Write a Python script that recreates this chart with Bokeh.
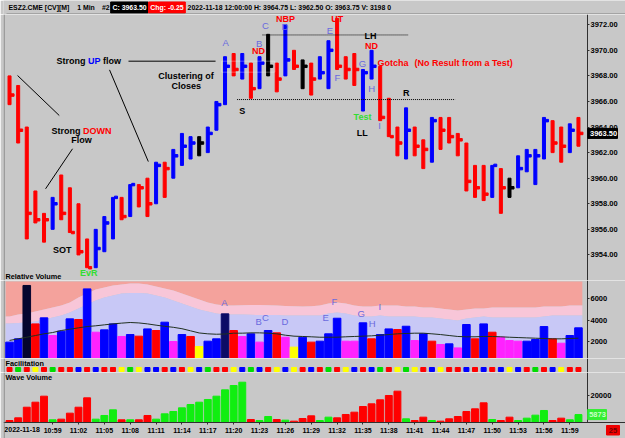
from bokeh.plotting import figure
from bokeh.models import (Range1d, FixedTicker, NumeralTickFormatter, Span,
                          ColumnDataSource, BoxAnnotation, LinearAxis)
from bokeh.layouts import column
from bokeh.embed import file_html
from bokeh.resources import INLINE
from bokeh.core.properties import value
from bokeh.transform import dodge

BG = "#c8c8c8"
FONT = "Liberation Sans"
LETTER = "#6a6ade"
GREEN_T = "#33dd33"

# ---------------- data ----------------
bars = list(range(67))
high = [3968.0, 3967.25, 3964.0, 3959.0, 3957.25, 3958.5, 3960.25, 3959.25, 3958.0, 3955.25,
        3956.0, 3957.0, 3958.5, 3958.5, 3959.5, 3959.5, 3960.0, 3961.25, 3961.25, 3962.25,
        3963.5, 3963.25, 3963.25, 3964.0, 3966.0, 3969.5, 3969.75, 3969.75, 3969.0, 3969.5,
        3971.25, 3969.0, 3972.0, 3970.0, 3969.25, 3969.0, 3969.5, 3970.75, 3972.5, 3969.5,
        3969.75, 3968.5, 3970.0, 3968.75, 3966.25, 3964.0, 3965.5, 3964.0, 3963.0, 3964.75,
        3964.75, 3964.75, 3963.5, 3962.75, 3961.0, 3961.0, 3961.0, 3960.75, 3960.0, 3961.75,
        3962.25, 3962.25, 3964.75, 3964.5, 3964.0, 3964.25, 3964.75]
low = [3965.75, 3962.75, 3955.25, 3956.5, 3955.0, 3956.0, 3956.75, 3955.75, 3954.0, 3953.0,
       3953.0, 3954.25, 3955.25, 3956.75, 3957.0, 3957.75, 3957.0, 3958.0, 3958.5, 3960.0,
       3961.0, 3961.5, 3961.75, 3962.0, 3963.75, 3965.75, 3968.0, 3967.75, 3966.25, 3967.0,
       3968.0, 3966.75, 3968.0, 3968.5, 3967.0, 3966.5, 3967.75, 3967.0, 3968.5, 3967.75,
       3967.25, 3965.25, 3967.75, 3964.5, 3963.25, 3961.75, 3961.5, 3961.75, 3960.75, 3961.25,
       3962.25, 3962.75, 3961.75, 3959.0, 3958.5, 3958.25, 3958.5, 3957.25, 3958.5, 3959.25,
       3960.5, 3959.5, 3961.5, 3962.0, 3961.25, 3962.0, 3962.5]
close = [3966.5, 3963.75, 3957.25, 3956.75, 3956.75, 3958.0, 3957.25, 3955.75, 3954.25, 3953.0,
         3954.5, 3956.5, 3958.5, 3957.0, 3959.5, 3959.25, 3958.0, 3961.0, 3960.75, 3961.75,
         3962.5, 3962.75, 3962.75, 3963.5, 3965.75, 3968.75, 3968.5, 3968.75, 3967.0, 3969.0,
         3968.75, 3967.75, 3969.25, 3968.75, 3968.75, 3967.75, 3968.25, 3970.0, 3968.75, 3968.5,
         3968.5, 3968.25, 3968.75, 3964.75, 3963.25, 3962.75, 3963.75, 3962.5, 3962.25, 3964.5,
         3963.75, 3963.25, 3963.0, 3959.75, 3959.25, 3958.75, 3961.0, 3959.25, 3959.25, 3960.75,
         3961.75, 3961.75, 3964.5, 3962.75, 3962.5, 3963.75, 3963.5]
R, B, K = "#ff0000", "#0000ff", "#000000"
price_colors = [R, R, R, R, R, B, R, R, R, R, B, B, B, R, B, R, R, B, R, B,
                B, B, K, B, B, B, R, B, R, B, K, R, B, R, K, R, B, B, R, R,
                R, B, B, R, R, R, B, R, R, B, R, R, R, R, R, R, B, R, K, B,
                B, B, B, R, R, B, R]

M, Y, N1, N2 = "#ff22ff", "#ffff00", "#05052e", "#0c0c66"
rel_volume = [1940, 2250, 7250, 3650, 4215, 2560, 2970, 4120, 4060, 6930,
              2870, 3090, 3650, 2470, 2650, 2500, 3180, 3030, 3810, 2000,
              2650, 2470, 1530, 2030, 2250, 4590, 3030, 2470, 2720, 1940,
              3030, 2810, 2400, 1470, 2400, 1940, 2030, 2720, 4180, 2030,
              2030, 3750, 2250, 2650, 3180, 3120, 3430, 2090, 2720, 2030,
              1720, 1780, 1400, 3590, 2250, 3650, 2870, 2400, 2090, 2030,
              2030, 2190, 3400, 2250, 1840, 2560, 3280]
rel_colors = [B, B, N1, R, B, M, B, B, R, B, M, B, B, M, B, R, B, R, B, M,
              B, R, Y, B, B, N2, R, M, B, M, B, R, M, Y, B, R, B, B, B, M,
              M, B, R, B, B, R, B, M, B, R, M, B, M, B, R, B, R, M, M, M,
              B, B, B, R, M, B, B]
rel_avg = [2100, 2250, 2400, 2560, 2720, 2840, 3030, 3150, 3280, 3400,
           3470, 3560, 3650, 3720, 3780, 3740, 3650, 3530, 3420, 3330,
           3200, 3000, 2800, 2720, 2680, 2700, 2780, 2780, 2810, 2810,
           2780, 2720, 2590, 2500, 2470, 2440, 2400, 2400, 2400, 2440,
           2470, 2500, 2530, 2590, 2650, 2720, 2750, 2780, 2780, 2720,
           2650, 2560, 2470, 2440, 2440, 2470, 2470, 2440, 2400, 2370,
           2340, 2310, 2280, 2250, 2250, 2280, 2310]
band_upper = [4350, 4530, 4620, 4810, 5000, 5185, 5370, 5650, 6120, 6500,
              6870, 7060, 7250, 7340, 7430, 7430, 7340, 7150, 6965, 6780,
              6500, 6215, 5935, 5650, 5470, 5370, 5370, 5400, 5420, 5420,
              5400, 5370, 5330, 5300, 5280, 5300, 5370, 5560, 5650, 5560,
              5370, 5280, 5280, 5370, 5370, 5370, 5280, 5280, 5185, 5185,
              5090, 5000, 4905, 5000, 5090, 5090, 5185, 5185, 5185, 5185,
              5185, 5185, 5280, 5280, 5280, 5370, 5370]
band_middle = [3690, 3730, 3780, 3870, 4060, 4250, 4440, 4720, 5090, 5470,
               5840, 6120, 6310, 6500, 6540, 6540, 6500, 6310, 6120, 5840,
               5560, 5280, 5000, 4810, 4620, 4530, 4530, 4530, 4500, 4480,
               4480, 4480, 4440, 4440, 4440, 4440, 4440, 4620, 4720, 4620,
               4440, 4340, 4340, 4440, 4340, 4340, 4340, 4340, 4250, 4250,
               4155, 4060, 3970, 4155, 4250, 4340, 4250, 4250, 4250, 4250,
               4250, 4250, 4340, 4440, 4440, 4440, 4440]
band_top = 7620

G = "#00dd00"
fac_colors = [R, G, R, Y, R, G, R, R, B, R, B, R, R, Y, G, Y, B, B, R, B,
              R, Y, B, G, R, R, Y, B, G, B, R, Y, B, Y, R, B, R, G, R, Y,
              B, R, B, G, R, Y, G, Y, R, B, Y, R, R, B, R, B, R, B, Y, B,
              R, G, R, B, Y, R, R]

WG = "#11ee11"
wave_volume = [1480, 3460, 11330, 15040, 19500, 2000, 2470, 6910, 11330, 18270,
               2470, 5190, 9380, 2000, 2000, 2000, 5190, 2470, 6420, 8150,
               10860, 13330, 15040, 17040, 19500, 24200, 27400, 29850, 2220, 1480,
               4440, 2220, 1730, 990, 2960, 4940, 1480, 3950, 3460, 5930,
               7650, 11850, 13830, 16790, 20000, 23210, 2720, 1480, 3950, 1480,
               990, 2720, 4440, 8150, 10120, 14570, 2220, 1480, 3950, 1480,
               3210, 5430, 8890, 1480, 3210, 2000, 5873]
wave_colors = [R, R, R, R, R, WG, R, R, R, R, WG, WG, WG, R, WG, R, R, WG, WG, WG,
               WG, WG, WG, WG, WG, WG, WG, WG, R, WG, WG, R, WG, R, R, R, WG, WG, R, R,
               R, R, R, R, R, R, WG, R, R, WG, R, R, R, R, R, R, WG, R, R, WG,
               WG, WG, WG, R, R, WG, WG]

price_ticks = [3954, 3956, 3958, 3960, 3962, 3964, 3966, 3968, 3970, 3972]
rv_ticks = [2000, 4000, 6000]
wave_ticks = [20000]
time_tick_bars = [5, 8, 11, 14, 17, 20, 23, 26, 29, 32, 35, 38, 41, 44, 47, 50, 53, 56, 59, 62, 65]
time_tick_labels = ["10:59", "11:02", "11:05", "11:08", "11:11", "11:14", "11:17", "11:20",
                    "11:23", "11:26", "11:29", "11:32", "11:35", "11:38", "11:41", "11:44",
                    "11:47", "11:50", "11:53", "11:56", "11:59"]
session_date = "2022-11-18"
bar_count_left = "25"

# ---------------- layout helpers ----------------
X0 = -0.70           # x value at the left edge of each panel
PXB = 8.62           # pixels per one-minute bar
SEP = X0 + 584 / PXB  # x value of the price-scale separator line
XR = Range1d(X0, X0 + 622 / PXB)


def px2x(px):
    return X0 + (px - 3) / PXB


def make_fig(height, yr, ticks=None, fmt="0"):
    f = figure(width=625, height=height, x_range=XR, y_range=yr, output_backend="svg",
               toolbar_location=None, min_border_left=3, min_border_right=0,
               min_border_top=0, min_border_bottom=0,
               x_axis_location=None, y_axis_location=None,
               background_fill_color=BG, border_fill_color=BG, outline_line_color=None)
    f.grid.visible = False
    ax = LinearAxis(fixed_location=SEP)
    ax.ticker = FixedTicker(ticks=ticks if ticks is not None else [])
    ax.formatter = NumeralTickFormatter(format=fmt)
    ax.axis_line_color = "#303030"
    ax.major_tick_out = 2
    ax.major_tick_in = 0
    ax.minor_tick_line_color = None
    ax.major_tick_line_color = "#303030"
    ax.major_label_standoff = 1
    ax.major_label_text_font = FONT
    ax.major_label_text_font_style = "bold"
    ax.major_label_text_font_size = "7.5px"
    ax.major_label_text_color = "black"
    f.add_layout(ax, "right")
    f.add_layout(Span(location=px2x(3.5), dimension="height", line_color="#707070",
                      line_width=1))
    return f, ax


def texts(f, x, y, t, color, size="9px", style="bold", align="center", level="glyph"):
    src = ColumnDataSource(dict(x=x, y=y, t=t, c=color))
    f.text(x="x", y="y", text="t", text_color="c", source=src, text_font=value(FONT),
           text_font_style=style, text_font_size=size, text_align=align,
           text_baseline="middle", level=level)


# ---------------- header ----------------
hdr = figure(width=625, height=14, x_range=Range1d(0, 625), y_range=Range1d(0, 14),
             output_backend="svg", toolbar_location=None, min_border=0,
             x_axis_location=None, y_axis_location=None,
             background_fill_color=BG, border_fill_color=BG, outline_line_color=None)
hdr.grid.visible = False
hdr.quad(left=[107.7, 145.7], right=[145.2, 182.7], bottom=[1.5, 1.5], top=[12.5, 12.5],
         color=["black", "#ff0000"])
texts(hdr, [5, 74, 99, 109.5, 147.5, 185], [7] * 6,
      ["ESZ2.CME [CV][M]", "1 Min", "#2", "C: 3963.50", "Chg: -0.25",
       "2022-11-18 12:00:00 H: 3964.75 L: 3962.50 O: 3963.75 V: 3198 0"],
      ["black", "black", "black", "white", "white", "black"], size="6.9px", align="left")
hdr.segment(x0=[3], y0=[0.5], x1=[625], y1=[0.5], line_color="#808080", line_width=1)

# ---------------- price panel ----------------
PY = 12.79  # pixels per point
p, pax = make_fig(266, Range1d(3952.0, 3972.8), price_ticks, "0.00")
psrc = ColumnDataSource(dict(x=bars, h=high, l=low, c=close, col=price_colors))
p.vbar(x="x", top="h", bottom="l", width=0.35, color="col", source=psrc)
p.rect(x=dodge("x", 0.35, range=XR), y="c", width=3, width_units="screen", height=2.5,
       height_units="screen", color="col", source=psrc)

p.segment(x0=[29.35, 26.4], y0=[3971.2, 3966.15], x1=[46.3, 51.7], y1=[3971.2, 3966.15],
          line_color="black", line_dash="1 1", line_width=1)
p.segment(x0=[13.8, 11.6, 0.93, 7.31], y0=[3969.15, 3968.47, 3968.03, 3962.30],
          x1=[23.9, 16.1, 5.77, 4.18], y1=[3969.15, 3961.30, 3964.90, 3959.17],
          line_color="black", line_width=1)
p.add_layout(BoxAnnotation(left=24.6, right=30.78, bottom=3968.29, top=3969.15,
                           fill_alpha=0, line_color="white", line_width=1))

texts(p, [5.45, 9.10, 10.84, 4.87, 8.52, 42.69, 46.98],
      [3969.15, 3969.15, 3969.15, 3963.67, 3963.67, 3968.99, 3968.99],
      ["Strong", "UP", "flow", "Strong", "DOWN", "Gotcha", "(No Result from a Test)"],
      ["black", "#0000ff", "black", "black", "#ff0000", "#ff0000", "#ff0000"], align="left")
texts(p, [8.35, 20.47, 20.50, 6.11, 9.20, 26.99, 46.02, 41.88, 40.91,
          28.88, 32.02, 38.01, 41.99, 40.95],
      [3962.95, 3968.03, 3967.19, 3954.35, 3952.55, 3965.29, 3966.68, 3971.10, 3963.52,
       3969.98, 3972.45, 3972.42, 3970.30, 3964.82],
      ["Flow", "Clustering of", "Closes", "SOT", "EvR", "S", "R", "LH", "LL",
       "ND", "NBP", "UT", "ND", "Test"],
      ["black"] * 4 + [GREEN_T] + ["black"] * 4 + ["#ff0000"] * 4 + [GREEN_T])
texts(p, [25.06, 28.97, 29.70, 31.94, 37.16, 38.05, 40.95, 42.0, 42.92],
      [3970.58, 3970.55, 3971.94, 3971.86, 3971.55, 3967.90, 3968.99, 3966.99, 3964.12],
      list("ABCDEFGHI"), [LETTER] * 9, size="9.5px", style="normal")
texts(p, [-0.47], [3952.31], ["Relative Volume"], ["black"], size="7.3px", align="left")
# last-price marker on the price scale
p.quad(left=[SEP + 0.02], right=[px2x(617)], bottom=[close[-1] - 5 / PY],
       top=[close[-1] + 5 / PY], color="black", level="overlay")
texts(p, [px2x(589.5)], [close[-1]], ["%.2f" % close[-1]], ["white"], size="7.5px",
      align="left", level="overlay")

# ---------------- relative volume panel ----------------
rvf, _ = make_fig(78, Range1d(407, 7715), rv_ticks)
bx = [-0.45] + bars + [66.45]
up_e = [band_upper[0]] + band_upper + [band_upper[-1]]
mid_e = [band_middle[0]] + band_middle + [band_middle[-1]]
rvf.varea(x=bx, y1=up_e, y2=[band_top] * len(bx), fill_color="#f4a29c")
rvf.varea(x=bx, y1=mid_e, y2=up_e, fill_color="#f8c6d8")
rvf.varea(x=bx, y1=[0] * len(bx), y2=mid_e, fill_color="#c8c8f6")
rvf.vbar(x=bars, top=rel_volume, bottom=0, width=0.88, color=rel_colors)
rvf.line(x=bars, y=rel_avg, line_color="#203020", line_width=1)
texts(rvf, [24.94, 28.89, 29.70, 31.94, 36.66, 37.70, 40.80, 42.08, 42.96],
      [5625, 3902, 4277, 3902, 4277, 5776, 4595, 3714, 5279],
      list("ABCDEFGHI"), [LETTER] * 9, size="9.5px", style="normal")

# ---------------- facilitation panel ----------------
fac, _ = make_fig(14, Range1d(0, 14))
fac.rect(x=bars, y=3, width=0.58, height=4, color=fac_colors)
texts(fac, [-0.47], [9], ["Facilitation"], ["black"], size="7.3px", align="left")

# ---------------- wave volume panel (frame runs to the page bottom) ----------------
WV_MAX = 37035
WPX = WV_MAX / 50  # volume per pixel
wv, wax = make_fig(66, Range1d(-WPX * 16, WV_MAX), wave_ticks)
wax.bounds = (0, WV_MAX)
wv.vbar(x=bars, top=wave_volume, bottom=0, width=0.8, color=wave_colors)
texts(wv, [-0.47], [33700], ["Wave Volume"], ["black"], size="7.3px", align="left")
xa = LinearAxis(ticker=FixedTicker(ticks=time_tick_bars), fixed_location=0,
                major_label_overrides={b: t for b, t in zip(time_tick_bars, time_tick_labels)})
xa.axis_line_color = "#303030"
xa.major_tick_out = 2
xa.major_tick_in = 0
xa.minor_tick_line_color = None
xa.major_tick_line_color = "#303030"
xa.major_label_standoff = 2
xa.major_label_text_font = FONT
xa.major_label_text_font_style = "bold"
xa.major_label_text_font_size = "7px"
xa.major_label_text_color = "black"
wv.add_layout(xa, "below")
texts(wv, [-0.6], [-WPX * 7.3], [session_date], ["black"], size="7px", align="left")
# last wave-volume marker and bar counter box
wv.quad(left=[SEP + 0.02, px2x(606)], right=[px2x(606), px2x(619)],
        bottom=[wave_volume[-1] - 5 * WPX, -WPX * 12.5],
        top=[wave_volume[-1] + 5 * WPX, -WPX * 3], color=["#33ee33", "#ee0000"],
        level="overlay")
texts(wv, [px2x(597), px2x(612.5)], [wave_volume[-1], -WPX * 7.7],
      [str(wave_volume[-1]), bar_count_left], ["#c8ffc8", "#700000"], size="7.5px",
      level="overlay")

layout = column(hdr, p, rvf, fac, wv, spacing=0)
open("out.html", "w").write(file_html(layout, INLINE))
